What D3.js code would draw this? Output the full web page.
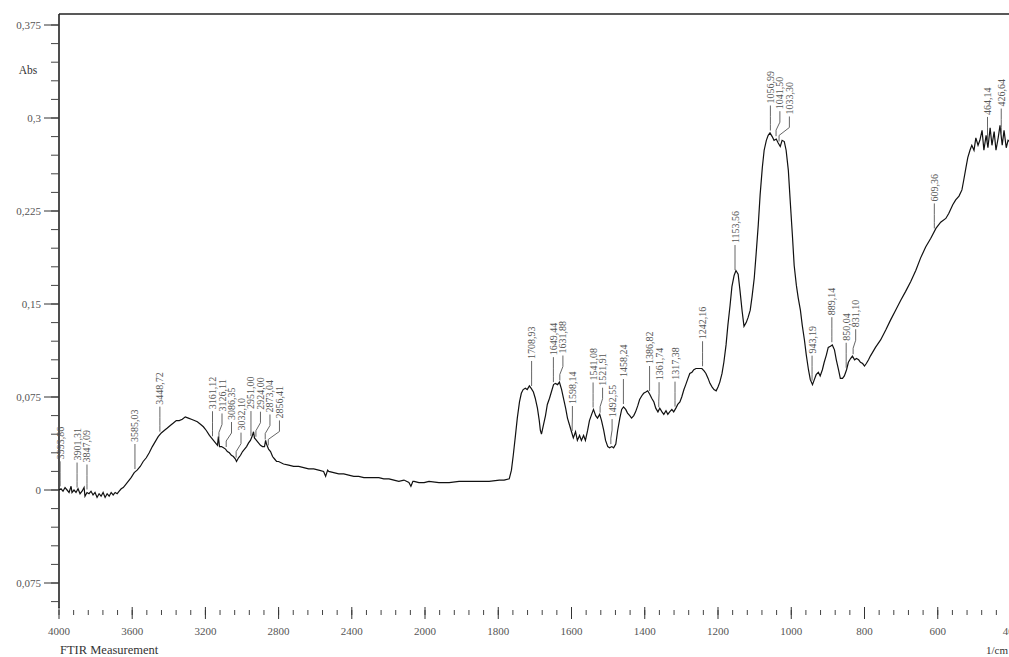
<!DOCTYPE html>
<html>
<head>
<meta charset="utf-8">
<script src="https://cdn.jsdelivr.net/npm/d3@7/dist/d3.min.js"></script>
<style>
  html, body { margin: 0; padding: 0; background: #fff; }
  svg { display: block; }
  text { font-family: "Liberation Serif", "DejaVu Serif", serif; }
</style>
</head>
<body>
<svg id="chart" width="1009" height="657"></svg>
<script>
// FTIR absorbance spectrum: [wavenumber (1/cm), absorbance]
const spectrum = [
  [4000,0],[3989,.001],[3978,-.001],[3967,.002],[3956,0],[3945,-.002],[3934,.003],[3929,-.002],[3918,0],[3907,-.002],
  [3896,.001],[3885,-.003],[3874,-.001],[3863,.002],[3858,-.005],[3847,-.002],[3836,-.003],[3825,-.001],[3814,-.004],
  [3803,-.002],[3792,-.006],[3781,-.003],[3770,-.005],[3759,-.002],[3748,-.006],[3737,-.003],[3726,-.005],[3715,-.002],
  [3704,-.004],[3693,-.002],[3682,-.003],[3671,-.001],[3660,.001],[3649,.002],
  [3638,.004],[3622,.007],[3606,.010],[3589,.014],[3573,.016],[3556,.019],[3540,.023],[3523,.026],[3507,.030],[3490,.035],
  [3474,.039],[3458,.043],[3441,.046],[3425,.048],[3408,.050],[3392,.052],[3375,.054],[3359,.056],[3343,.056],[3326,.057],
  [3310,.059],[3293,.058],[3277,.057],[3260,.056],[3244,.055],[3227,.053],[3211,.051],[3195,.048],[3178,.044],[3167,.042],
  [3156,.040],[3145,.038],[3134,.036],[3129,.043],[3123,.035],[3112,.035],[3101,.034],[3090,.033],[3080,.031],[3069,.030],
  [3058,.028],[3047,.027],[3036,.025],[3030,.023],[3019,.026],[3008,.028],[2997,.031],[2986,.033],[2975,.035],[2964,.038],
  [2954,.040],[2943,.044],[2937,.047],[2932,.042],[2921,.040],[2910,.038],[2899,.036],[2888,.035],[2877,.035],[2871,.040],
  [2866,.037],[2855,.033],[2844,.031],[2833,.027],[2822,.025],[2811,.023],[2800,.023],[2773,.021],[2745,.020],[2718,.019],
  [2690,.019],[2663,.018],[2636,.017],[2608,.017],[2581,.016],[2554,.015],[2543,.011],[2532,.016],[2526,.015],[2499,.014],
  [2471,.013],[2444,.013],[2417,.012],[2389,.011],[2362,.011],[2334,.010],[2307,.010],[2280,.010],[2252,.010],[2225,.009],
  [2197,.009],[2170,.008],[2143,.007],[2115,.008],[2088,.006],[2077,.003],[2066,.007],[2060,.007],[2033,.006],[2005,.006],
  [1989,.007],[1962,.006],[1934,.006],[1907,.007],[1879,.007],[1852,.007],[1825,.007],[1797,.008],[1784,.008],[1770,.009],
  [1764,.016],[1759,.028],[1753,.044],[1748,.058],[1742,.071],[1737,.078],[1732,.081],[1726,.082],[1721,.081],[1715,.084],
  [1710,.082],[1704,.079],[1699,.074],[1693,.066],[1688,.056],[1685,.048],[1682,.045],[1677,.052],[1671,.060],[1666,.069],
  [1660,.074],[1655,.079],[1649,.085],[1644,.086],[1638,.085],[1633,.087],[1627,.081],[1622,.074],[1616,.066],[1611,.058],
  [1605,.052],[1600,.047],[1595,.042],[1589,.047],[1584,.040],[1578,.044],[1573,.040],[1567,.044],[1562,.040],[1556,.048],
  [1551,.056],[1545,.061],[1540,.065],[1534,.060],[1529,.058],[1523,.061],[1518,.056],[1512,.048],[1507,.040],[1501,.035],
  [1496,.034],[1490,.035],[1485,.034],[1479,.037],[1474,.048],[1468,.058],[1463,.065],[1458,.067],[1452,.065],[1447,.062],
  [1441,.060],[1436,.058],[1430,.060],[1425,.063],[1419,.068],[1414,.073],[1408,.076],[1403,.078],[1397,.079],[1392,.080],
  [1386,.077],[1381,.074],[1375,.071],[1370,.066],[1364,.063],[1359,.066],[1353,.063],[1348,.061],[1342,.064],[1337,.061],
  [1332,.063],[1326,.065],[1321,.063],[1315,.066],[1310,.069],[1304,.071],[1299,.075],[1293,.081],[1288,.085],[1282,.090],
  [1277,.094],[1271,.095],[1266,.097],[1260,.098],[1255,.098],[1249,.098],[1244,.098],[1238,.096],[1233,.094],[1227,.090],
  [1222,.086],[1216,.083],[1211,.081],[1205,.080],[1200,.083],[1195,.087],[1189,.094],[1184,.103],[1178,.117],[1173,.133],
  [1167,.149],[1162,.164],[1156,.173],[1151,.177],[1145,.174],[1140,.161],[1134,.144],[1129,.132],[1123,.135],[1118,.139],
  [1112,.145],[1107,.156],[1101,.171],[1096,.190],[1090,.214],[1085,.238],[1079,.260],[1074,.274],[1068,.282],[1063,.286],
  [1058,.288],[1052,.285],[1047,.282],[1041,.283],[1036,.280],[1030,.277],[1025,.282],[1019,.281],[1014,.274],[1008,.258],
  [1003,.234],[997,.206],[992,.181],[986,.165],[981,.155],[975,.145],[970,.133],[964,.121],[959,.109],[953,.097],
  [948,.089],[942,.085],[937,.089],[932,.093],[926,.095],[921,.092],[915,.097],[910,.103],[904,.109],[899,.115],
  [893,.116],[888,.117],[882,.113],[877,.105],[871,.097],[866,.090],[860,.090],[855,.092],[849,.097],[844,.103],
  [838,.106],[833,.108],[827,.105],[822,.106],[816,.105],[811,.103],[805,.102],[800,.100],[795,.102],[789,.105],
  [784,.108],[770,.115],[756,.121],[742,.129],[729,.137],[715,.145],[701,.153],[688,.160],[674,.168],[660,.177],
  [647,.187],[633,.196],[619,.203],[605,.211],[592,.216],[578,.219],[570,.223],[559,.230],[551,.234],[542,.237],
  [534,.242],[529,.250],[523,.260],[518,.268],[512,.274],[507,.278],[501,.274],[496,.284],[490,.278],[485,.282],
  [479,.290],[474,.274],[468,.286],[463,.276],[457,.292],[452,.278],[446,.289],[441,.274],[435,.284],[430,.294],
  [424,.278],[419,.290],[413,.276],[408,.282],[403,.281]
];

// Picked peaks (1/cm)
const peakWavenumbers = [3993.86, 3901.31, 3847.09, 3585.03, 3448.72, 3161.12, 3126.11, 3086.35, 3032.10, 2951.00, 2924.00, 2873.04, 2856.41,
  1708.93, 1649.44, 1631.88, 1598.14, 1541.08, 1521.91, 1492.55, 1458.24, 1386.82, 1361.74, 1317.38, 1242.16, 1153.56,
  1056.99, 1041.50, 1033.30, 943.19, 889.14, 850.04, 831.10, 609.36, 464.14, 426.64];
const peakLabels = peakWavenumbers.map(v => v.toFixed(2).replace(".", ","));

const yTickValues = [0.375, 0.3, 0.225, 0.15, 0.075, 0, -0.075];
const yTickLabels = ["0,375", "0,3", "0,225", "0,15", "0,075", "0", "0,075"];
const xTickValues = [4000, 3600, 3200, 2800, 2400, 2000, 1800, 1600, 1400, 1200, 1000, 800, 600, 400];
const xTickLabels = ["4000", "3600", "3200", "2800", "2400", "2000", "1800", "1600", "1400", "1200", "1000", "800", "600", "400"];

const svg = d3.select("#chart");

// Wavenumber axis is compressed 2:1 above 2000 1/cm
const x = d3.scaleLinear().domain([4000, 2000, 400]).range([59, 425, 1011]);
const y = d3.scaleLinear().domain([0, 0.375]).range([490, 25]);

const axisX = 59, frameTop = 14, axisBottom = 608;
const tickFont = 11;

// frame: top border + left axis
svg.append("line").attr("x1", axisX).attr("x2", 1009).attr("y1", frameTop).attr("y2", frameTop)
  .attr("stroke", "#222").attr("stroke-width", 1.6);
svg.append("line").attr("x1", axisX).attr("x2", axisX).attr("y1", frameTop).attr("y2", axisBottom)
  .attr("stroke", "#222").attr("stroke-width", 1.6);

// y ticks
const yMinor = d3.range(-0.09, 0.3751, 0.015).map(v => +v.toFixed(3));
svg.append("g").selectAll("line").data(yMinor).join("line")
  .attr("x1", axisX - 8).attr("x2", axisX).attr("y1", d => y(d)).attr("y2", d => y(d))
  .attr("stroke", "#444").attr("stroke-width", 1);
svg.append("g").selectAll("line").data(yTickValues).join("line")
  .attr("x1", axisX - 15).attr("x2", axisX).attr("y1", d => y(d)).attr("y2", d => y(d))
  .attr("stroke", "#333").attr("stroke-width", 1);
svg.append("g").selectAll("text").data(yTickValues).join("text")
  .attr("x", axisX - 18).attr("y", d => y(d)).attr("dy", "0.35em")
  .attr("text-anchor", "end").attr("font-size", tickFont).attr("fill", "#555")
  .text((d, i) => yTickLabels[i]);
svg.append("text").attr("x", 28).attr("y", 74).attr("text-anchor", "middle")
  .attr("font-size", 11.5).attr("fill", "#333").text("Abs");

// x ticks
const xMinor = d3.range(4000, 2000, -80).concat(d3.range(2000, 399, -40));
const tickTop = 609;
svg.append("g").selectAll("line").data(xMinor).join("line")
  .attr("x1", d => x(d)).attr("x2", d => x(d)).attr("y1", tickTop + 1).attr("y2", tickTop + 6)
  .attr("stroke", "#444").attr("stroke-width", 1);
svg.append("g").selectAll("line").data(xTickValues).join("line")
  .attr("x1", d => x(d)).attr("x2", d => x(d)).attr("y1", tickTop - 2).attr("y2", tickTop + 10)
  .attr("stroke", "#333").attr("stroke-width", 1);
svg.append("g").selectAll("text").data(xTickValues).join("text")
  .attr("x", d => x(d)).attr("y", 635).attr("text-anchor", "middle")
  .attr("font-size", tickFont).attr("fill", "#555")
  .text((d, i) => xTickLabels[i]);
svg.append("text").attr("x", 60).attr("y", 654).attr("font-size", 12.5).attr("fill", "#333").text("FTIR Measurement");
svg.append("text").attr("x", 1008).attr("y", 654).attr("text-anchor", "end")
  .attr("font-size", 11).attr("fill", "#333").text("1/cm");

// spectrum trace
const line = d3.line().x(d => x(d[0])).y(d => y(d[1]));
svg.append("path").datum(spectrum).attr("d", line)
  .attr("fill", "none").attr("stroke", "#111").attr("stroke-width", 1.2);

// peak labels: spread apart so they do not overlap, joined by bent leaders
const sorted = spectrum.slice().sort((a, b) => a[0] - b[0]);
const bis = d3.bisector(d => d[0]).left;
function absAt(w) {
  const i = Math.max(1, Math.min(sorted.length - 1, bis(sorted, w)));
  const a = sorted[i - 1], b = sorted[i];
  const t = (w - a[0]) / (b[0] - a[0]);
  return a[1] + t * (b[1] - a[1]);
}
const labelGap = 9.5;
let prevX = -Infinity;
const placed = peakWavenumbers.map((w, i) => {
  const px = x(w), py = y(absAt(w));
  const lx = Math.max(px, prevX + labelGap);
  prevX = lx;
  return { px, py, lx, text: peakLabels[i] };
});
const peaks = svg.append("g");
placed.forEach(p => {
  const top = p.py - 28;
  const path = d3.path();
  path.moveTo(p.px, p.py - 3);
  path.lineTo(p.px, p.py - 9);
  path.lineTo(p.lx, p.py - 17);
  path.lineTo(p.lx, top);
  peaks.append("path").attr("d", path.toString())
    .attr("fill", "none").attr("stroke", "#555").attr("stroke-width", 0.9);
  peaks.append("text")
    .attr("transform", `translate(${p.lx},${top - 2}) rotate(-90)`)
    .attr("dy", "0.35em").attr("font-size", 10).attr("fill", "#555")
    .text(p.text);
});
</script>
</body>
</html>
